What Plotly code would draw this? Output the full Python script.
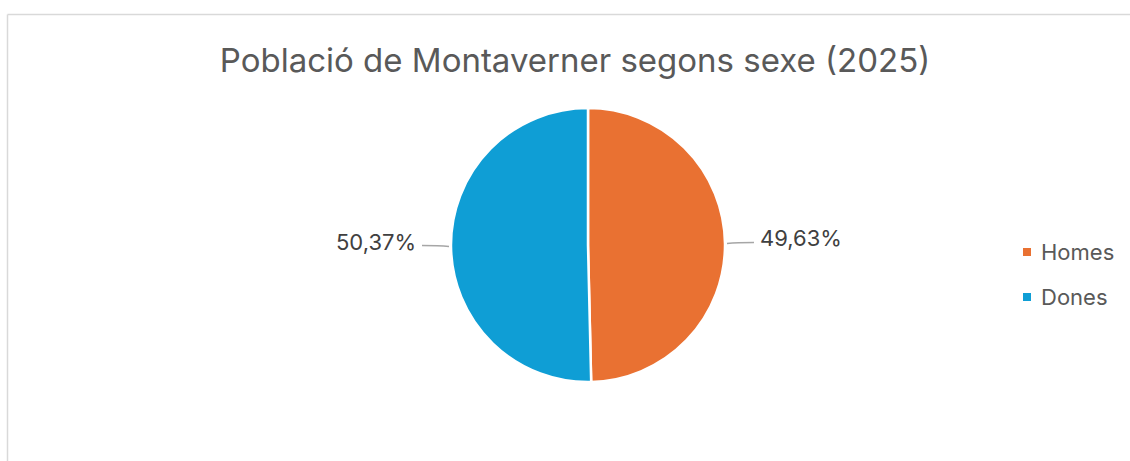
import math
import plotly.graph_objects as go

# ---- data ----
title_text = "Població de Montaverner segons sexe (2025)"
categories = ["Homes", "Dones"]
percentages = [49.63, 50.37]
colors = ["#E97132", "#0F9ED5"]

W, H = 1130, 461
cx, cy, r = 588, 245, 137  # pie geometry in px
FONT = "Inter"

def px(x):
    return x / W

def py(y):
    return 1 - y / H

fig = go.Figure()
fig.add_trace(go.Pie(
    labels=categories,
    values=percentages,
    marker=dict(colors=colors, line=dict(color="white", width=2.5)),
    sort=False,
    direction="clockwise",
    rotation=0,
    textinfo="none",
    hoverinfo="label+percent",
    showlegend=False,
    domain=dict(x=[px(cx - r), px(cx + r)], y=[py(cy + r), py(cy - r)]),
))

shapes = []
annotations = []

# frame lines (chart area border, partially visible)
shapes.append(dict(type="line", xref="paper", yref="paper", x0=px(7.5), x1=1, y0=py(14.5), y1=py(14.5),
                   line=dict(color="#D9D9D9", width=1.5)))
shapes.append(dict(type="line", xref="paper", yref="paper", x0=px(7.5), x1=px(7.5), y0=py(14.5), y1=0,
                   line=dict(color="#D9D9D9", width=1.5)))

# data labels with leader lines computed from the values
total = sum(percentages)
start = 0.0
for cat, v in zip(categories, percentages):
    frac = v / total
    mid = (start + frac / 2) * 2 * math.pi
    start += frac
    sx = math.sin(mid)
    ex, ey = cx + (r + 2) * sx, cy - (r + 2) * math.cos(mid)
    side = 1 if sx >= 0 else -1
    lx = ex + side * 27
    shapes.append(dict(type="path", xref="paper", yref="paper",
                       path=f"M {px(ex)},{py(ey)} Q {px(ex + side*10)},{py(ey - 1)} {px(lx)},{py(ey - 1)}",
                       line=dict(color="#A6A6A6", width=1.5)))
    label = f"{v:.2f}".replace(".", ",") + "%"
    annotations.append(dict(x=px(lx + side * 4), y=py(ey - 5), xref="paper", yref="paper",
                            text=label, showarrow=False,
                            xanchor="left" if side > 0 else "right", yanchor="middle",
                            font=dict(size=22, color="#404040", family=FONT)))

# legend
for i, (cat, col) in enumerate(zip(categories, colors)):
    yy = 252 + i * 45
    shapes.append(dict(type="rect", xref="paper", yref="paper",
                       x0=px(1023), x1=px(1031), y0=py(yy + 4), y1=py(yy - 4),
                       fillcolor=col, line=dict(width=0)))
    annotations.append(dict(x=px(1039), y=py(yy), xref="paper", yref="paper", text=cat,
                            showarrow=False, xanchor="left", yanchor="middle",
                            font=dict(size=22, color="#595959", family=FONT)))

fig.update_layout(
    width=W, height=H,
    margin=dict(l=0, r=0, t=0, b=0),
    paper_bgcolor="white",
    plot_bgcolor="white",
    title=dict(text=title_text, x=px(575), xanchor="center", y=py(60), yanchor="middle",
               font=dict(size=33, color="#595959", family=FONT)),
    shapes=shapes,
    annotations=annotations,
    showlegend=False,
)

fig.write_html("out.html", config={"displayModeBar": False},
               post_script="document.body.style.margin='0';")
